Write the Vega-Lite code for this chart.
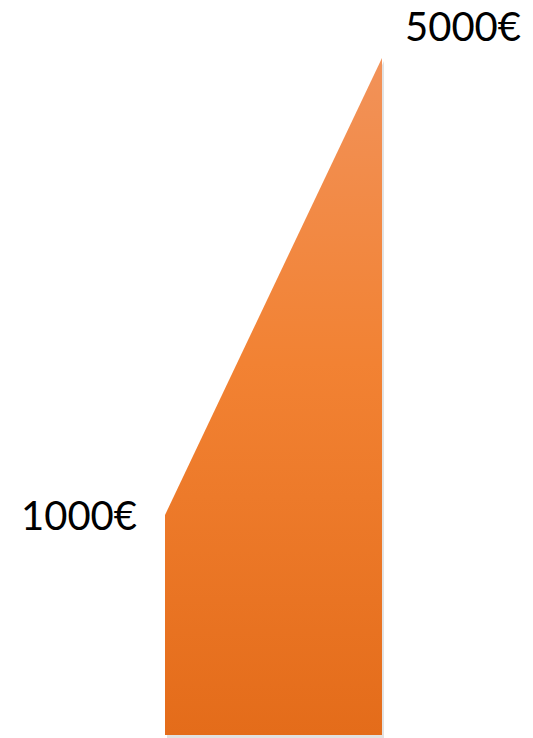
{
  "$schema": "https://vega.github.io/schema/vega-lite/v6.json",
  "width": 533,
  "height": 738,
  "autosize": {"type": "fit", "contains": "padding"},
  "padding": 0,
  "background": "white",
  "config": {"view": {"stroke": null}},
  "data": {"values": [
    {"step": 0, "amount": 1000, "label": "1000€"},
    {"step": 1, "amount": 5000, "label": "5000€"}
  ]},
  "encoding": {
    "x": {"field": "step", "type": "quantitative", "scale": {"domain": [-0.7604, 1.6959], "nice": false, "zero": false}, "axis": null},
    "y": {"field": "amount", "type": "quantitative", "scale": {"domain": [-952, 5507], "nice": false, "zero": false}, "axis": null}
  },
  "layer": [
    {
      "mark": {"type": "area", "interpolate": "linear", "color": "#8a8a8a", "opacity": 0.25, "xOffset": 2, "yOffset": 3, "y2Offset": 3},
      "encoding": {"y2": {"datum": -925}}
    },
    {
      "mark": {"type": "area", "interpolate": "linear", "color": {"gradient": "linear", "x1": 0, "y1": 0, "x2": 0, "y2": 1, "stops": [
        {"offset": 0, "color": "#F29259"},
        {"offset": 0.45, "color": "#F28233"},
        {"offset": 1, "color": "#E46C1A"}
      ]}},
      "encoding": {"y2": {"datum": -925}}
    },
    {
      "transform": [{"filter": "datum.step == 0"}],
      "mark": {"type": "text", "align": "right", "baseline": "alphabetic", "dx": -28, "dy": 15, "font": "Lato", "fontSize": 40, "color": "black"},
      "encoding": {"text": {"field": "label"}}
    },
    {
      "transform": [{"filter": "datum.step == 1"}],
      "mark": {"type": "text", "align": "left", "baseline": "alphabetic", "dx": 23, "dy": -17, "font": "Lato", "fontSize": 40, "color": "black"},
      "encoding": {"text": {"field": "label"}}
    }
  ]
}
